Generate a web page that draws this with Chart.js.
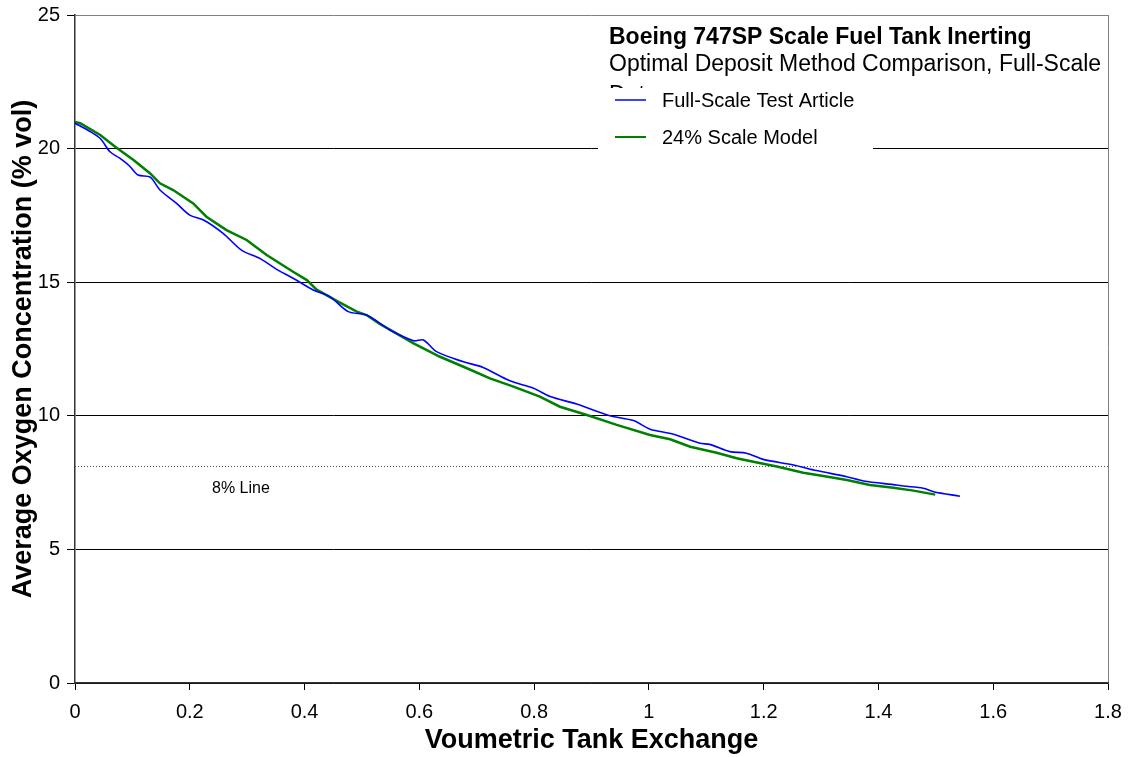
<!DOCTYPE html>
<html>
<head>
<meta charset="utf-8">
<script src="https://cdn.jsdelivr.net/npm/chart.js@4/dist/chart.umd.min.js"></script>
<style>
  html, body { margin: 0; padding: 0; background: #fff; }
  #wrap { width: 1129px; height: 757px; }
</style>
</head>
<body>
<div id="wrap"><canvas id="chart" width="1129" height="757"></canvas></div>
<script>
// values
const fullScaleX = [0, 0.024, 0.044, 0.061, 0.078, 0.095, 0.110, 0.131, 0.148, 0.177, 0.200, 0.224, 0.258, 0.290, 0.322, 0.350, 0.380, 0.415, 0.444, 0.476, 0.508, 0.549, 0.590, 0.607, 0.630, 0.677, 0.711, 0.758, 0.799, 0.828, 0.874, 0.932, 0.973, 1.002, 1.043, 1.089, 1.106, 1.141, 1.170, 1.199, 1.252, 1.292, 1.345, 1.374, 1.432, 1.443, 1.478, 1.496, 1.542];
const fullScaleY = [20.95, 20.67, 20.38, 19.88, 19.64, 19.35, 19.01, 18.93, 18.45, 17.95, 17.51, 17.33, 16.83, 16.20, 15.89, 15.50, 15.15, 14.71, 14.46, 13.90, 13.77, 13.21, 12.81, 12.84, 12.40, 12.02, 11.81, 11.31, 11.03, 10.72, 10.44, 10.00, 9.82, 9.50, 9.31, 8.97, 8.93, 8.66, 8.60, 8.37, 8.16, 7.95, 7.72, 7.56, 7.41, 7.37, 7.29, 7.16, 6.99];

const modelX = [0, 0.009, 0.044, 0.070, 0.102, 0.131, 0.148, 0.171, 0.206, 0.229, 0.264, 0.299, 0.334, 0.380, 0.404, 0.421, 0.456, 0.491, 0.508, 0.531, 0.590, 0.636, 0.683, 0.723, 0.764, 0.810, 0.845, 0.892, 0.944, 1.002, 1.037, 1.072, 1.118, 1.153, 1.182, 1.223, 1.269, 1.304, 1.345, 1.385, 1.426, 1.461, 1.499];
const modelY = [21.0, 20.95, 20.51, 20.07, 19.57, 19.07, 18.70, 18.45, 17.95, 17.45, 16.95, 16.58, 16.02, 15.39, 15.08, 14.72, 14.30, 13.90, 13.77, 13.44, 12.71, 12.21, 11.78, 11.40, 11.09, 10.72, 10.34, 10.03, 9.66, 9.28, 9.12, 8.84, 8.62, 8.41, 8.28, 8.10, 7.87, 7.75, 7.60, 7.41, 7.31, 7.20, 7.05];

const limitX = [0, 1.8];
const limitY = [8.1, 8.1];

const seriesNames = ['Full-Scale Test Article', '24% Scale Model'];
const titleLines = ['Boeing 747SP Scale Fuel Tank Inerting', 'Optimal Deposit Method Comparison, Full-Scale', 'Data'];
const limitLabel = '8% Line';

const FONT = "'Liberation Sans', Arial, sans-serif";

function toPoints(xs, ys) {
  return xs.map((x, i) => ({ x: x, y: ys[i] }));
}

// titles, legend box and the 8% label
const overlay = {
  id: 'overlay',
  afterDraw(chart) {
    const ctx = chart.ctx;
    const ys = chart.scales.y;
    ctx.save();
    ctx.fillStyle = '#000';
    ctx.textAlign = 'left';
    ctx.textBaseline = 'alphabetic';
    ctx.font = 'bold 23px ' + FONT;
    ctx.fillText(titleLines[0], 609, 44);
    ctx.font = '23px ' + FONT;
    ctx.fillText(titleLines[1], 609, 71);
    ctx.fillText(titleLines[2], 609, 102);

    // legend box hides the last title line and the grid line behind it
    ctx.fillStyle = '#fff';
    ctx.fillRect(598, 88, 275, 70);

    const colors = ['#0000ff', '#008000'];
    const rows = [100, 137];
    ctx.font = '20px ' + FONT;
    ctx.textBaseline = 'middle';
    rows.forEach((yy, i) => {
      ctx.strokeStyle = colors[i];
      ctx.lineWidth = i === 0 ? 1.5 : 2;
      ctx.beginPath();
      ctx.moveTo(615, yy);
      ctx.lineTo(646, yy);
      ctx.stroke();
      ctx.fillStyle = '#000';
      ctx.fillText(seriesNames[i], 662, yy + 1);
    });

    ctx.font = '16px ' + FONT;
    ctx.fillText(limitLabel, 212, ys.getPixelForValue(limitY[0]) + 22);
    ctx.restore();
  }
};

new Chart(document.getElementById('chart'), {
  type: 'line',
  data: {
    datasets: [
      {
        label: seriesNames[0],
        data: toPoints(fullScaleX, fullScaleY),
        borderColor: '#0000ff',
        borderWidth: 1.6,
        pointRadius: 0,
        tension: 0.3,
        order: 1
      },
      {
        label: seriesNames[1],
        data: toPoints(modelX, modelY),
        borderColor: '#008000',
        borderWidth: 2.5,
        pointRadius: 0,
        tension: 0,
        order: 2
      },
      {
        label: limitLabel,
        data: toPoints(limitX, limitY),
        borderColor: '#444',
        borderWidth: 1,
        borderDash: [1, 2],
        pointRadius: 0,
        order: 3
      }
    ]
  },
  options: {
    responsive: false,
    animation: false,
    layout: { padding: { left: 0, right: 21, top: 15, bottom: 0 } },
    plugins: {
      legend: { display: false },
      tooltip: { enabled: false }
    },
    scales: {
      x: {
        type: 'linear',
        min: 0,
        max: 1.8,
        afterFit: s => { s.height = 74; s.paddingLeft = 0; s.paddingRight = 0; },
        ticks: {
          stepSize: 0.2,
          color: '#000',
          padding: 10,
          font: { family: FONT, size: 20 },
          callback: v => String(+v.toFixed(1))
        },
        grid: {
          drawOnChartArea: true,
          color: c => (c.tick && c.tick.value === 1.8 ? '#808080' : 'rgba(0,0,0,0)'),
          tickColor: '#000',
          tickLength: 7,
          lineWidth: 1
        },
        border: { color: '#333', width: 1.5 },
        title: {
          display: true,
          text: 'Voumetric Tank Exchange',
          color: '#000',
          font: { family: FONT, size: 27, weight: 'bold' },
          padding: { top: 0, bottom: 0 }
        }
      },
      y: {
        min: 0,
        max: 25,
        afterFit: s => { s.width = 75; s.paddingTop = 0; s.paddingBottom = 0; },
        ticks: {
          stepSize: 5,
          color: '#000',
          padding: 7,
          font: { family: FONT, size: 20 }
        },
        grid: {
          color: c => (c.tick && c.tick.value === 25 ? '#808080' : '#000'),
          tickColor: '#000',
          tickLength: 8,
          lineWidth: 1
        },
        border: { color: '#333', width: 1.5 },
        title: {
          display: true,
          text: 'Average Oxygen Concentration (% vol)',
          color: '#000',
          font: { family: FONT, size: 27, weight: 'bold' },
          padding: { top: 7, bottom: 0 }
        }
      }
    }
  },
  plugins: [overlay]
});
</script>
</body>
</html>
